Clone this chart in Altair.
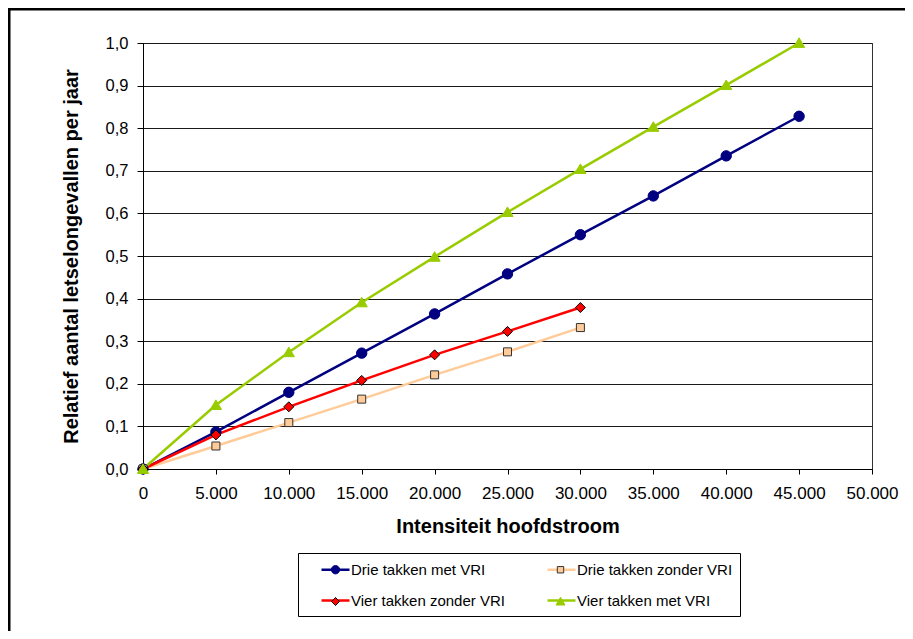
import altair as alt
import pandas as pd

# ---- data ----
x_vals = [0, 5000, 10000, 15000, 20000, 25000, 30000, 35000, 40000, 45000]
drie_met_vri = [0.0, 0.087, 0.180, 0.272, 0.364, 0.458, 0.550, 0.641, 0.735, 0.828]
drie_zonder_vri = [0.0, 0.054, 0.109, 0.164, 0.221, 0.275, 0.332]
vier_zonder_vri = [0.0, 0.080, 0.146, 0.208, 0.268, 0.323, 0.379]
vier_met_vri = [0.0, 0.150, 0.274, 0.391, 0.498, 0.603, 0.704, 0.803, 0.901, 1.0]

series_order = ["Drie takken met VRI", "Drie takken zonder VRI",
                "Vier takken zonder VRI", "Vier takken met VRI"]
series_values = [drie_met_vri, drie_zonder_vri, vier_zonder_vri, vier_met_vri]

line_colors = ["#000080", "#FFCC99", "#FF0000", "#99CC00"]
fill_colors = ["#000080", "#FFCC99", "#FF0000", "#99CC00"]
edge_colors = ["#000080", "#333333", "#000000", "#99CC00"]
marker_paths = [
    "M0.52,0A0.52,0.52,0,1,1,-0.52,0A0.52,0.52,0,1,1,0.52,0Z",
    "M-0.4,-0.4H0.4V0.4H-0.4Z",
    "M0,-0.5L0.5,0L0,0.5L-0.5,0Z",
    "M0,-0.52L0.56,0.44H-0.56Z",
]
x_ticks = [0, 5000, 10000, 15000, 20000, 25000, 30000, 35000, 40000, 45000, 50000]
y_ticks = [0.0, 0.1, 0.2, 0.3, 0.4, 0.5, 0.6, 0.7, 0.8, 0.9, 1.0]

rows = []
for name, vals in zip(series_order, series_values):
    for xv, yv in zip(x_vals, vals):
        rows.append({"x": xv, "y": yv, "series": name, "marker": name})
df = pd.DataFrame(rows)

FONT = "Liberation Sans"

x_enc = alt.X("x:Q", scale=alt.Scale(domain=[0, 50000], nice=False),
              axis=alt.Axis(values=x_ticks, title="Intensiteit hoofdstroom",
                            labelExpr="replace(format(datum.value, ','), ',', '.')",
                            labelOverlap=False, labelFlush=False, labelFontSize=17,
                            grid=False, tickSize=5, labelPadding=11, titlePadding=15))
y_enc = alt.Y("y:Q", scale=alt.Scale(domain=[0, 1], nice=False),
              axis=alt.Axis(values=y_ticks, title="Relatief aantal letselongevallen per jaar",
                            labelExpr="replace(format(datum.value, '.1f'), '.', ',')",
                            labelOverlap=False, labelFlush=False, labelFontSize=16.5,
                            grid=True, tickSize=6, labelPadding=9, titlePadding=24))

# legend with the line pieces and the labels (drawn box)
leg_lines = alt.Legend(
    title=None, orient="none", legendX=155, legendY=510, columns=2,
    direction="horizontal", columnPadding=26, rowPadding=13, padding=7,
    symbolSize=256, symbolOffset=21, labelOffset=6,
    symbolType="M-1.75,0H1.75", symbolStrokeWidth=2.5,
    labelFont=FONT, labelFontSize=15, labelColor="black",
    strokeColor="black", fillColor="transparent",
)
# legend with the markers only, laid exactly over the first one
leg_marks = alt.Legend(
    title=None, orient="none", legendX=155, legendY=510, columns=2,
    direction="horizontal", columnPadding=187, rowPadding=15, padding=8,
    symbolSize=256, symbolOffset=21, labelOffset=0, labelExpr="''",
    symbolStrokeWidth=1, labelFont=FONT, labelFontSize=15,
)

frame = alt.Chart(alt.Data(values=[{"k": 1}])).mark_rect(
    fill="transparent", stroke="black", strokeWidth=2.5
).encode(x=alt.value(-133.75), x2=alt.value(1200), y=alt.value(-33.75), y2=alt.value(1200))

lines = alt.Chart(df).mark_line(strokeWidth=2.5).encode(
    x=x_enc, y=y_enc,
    color=alt.Color("series:N", sort=series_order, scale=alt.Scale(range=line_colors),
                    legend=leg_lines),
)

points = alt.Chart(df).mark_point(filled=True, size=400, opacity=1, strokeWidth=1).encode(
    x=x_enc, y=y_enc,
    fill=alt.Fill("marker:N", scale=alt.Scale(domain=series_order, range=fill_colors),
                  legend=leg_marks),
    stroke=alt.Stroke("marker:N", scale=alt.Scale(domain=series_order, range=edge_colors),
                      legend=leg_marks),
    shape=alt.Shape("marker:N", scale=alt.Scale(domain=series_order, range=marker_paths),
                    legend=leg_marks),
)

chart = alt.layer(frame, lines, points).properties(
    width=729, height=426,
    padding={"left": 135, "top": 35, "right": 33, "bottom": 162},
    autosize=alt.AutoSizeParams(type="none"),
    background="white",
).configure_view(
    stroke="#333333", strokeWidth=1
).configure_axis(
    labelFont=FONT, labelColor="black",
    titleFont=FONT, titleFontSize=20, titleFontWeight="bold", titleColor="black",
    domainColor="black", domainWidth=1, tickColor="black", tickWidth=1,
    gridColor="#1a1a1a", gridWidth=1,
)

chart.save("out.html", embed_options={"renderer": "svg", "actions": False})
